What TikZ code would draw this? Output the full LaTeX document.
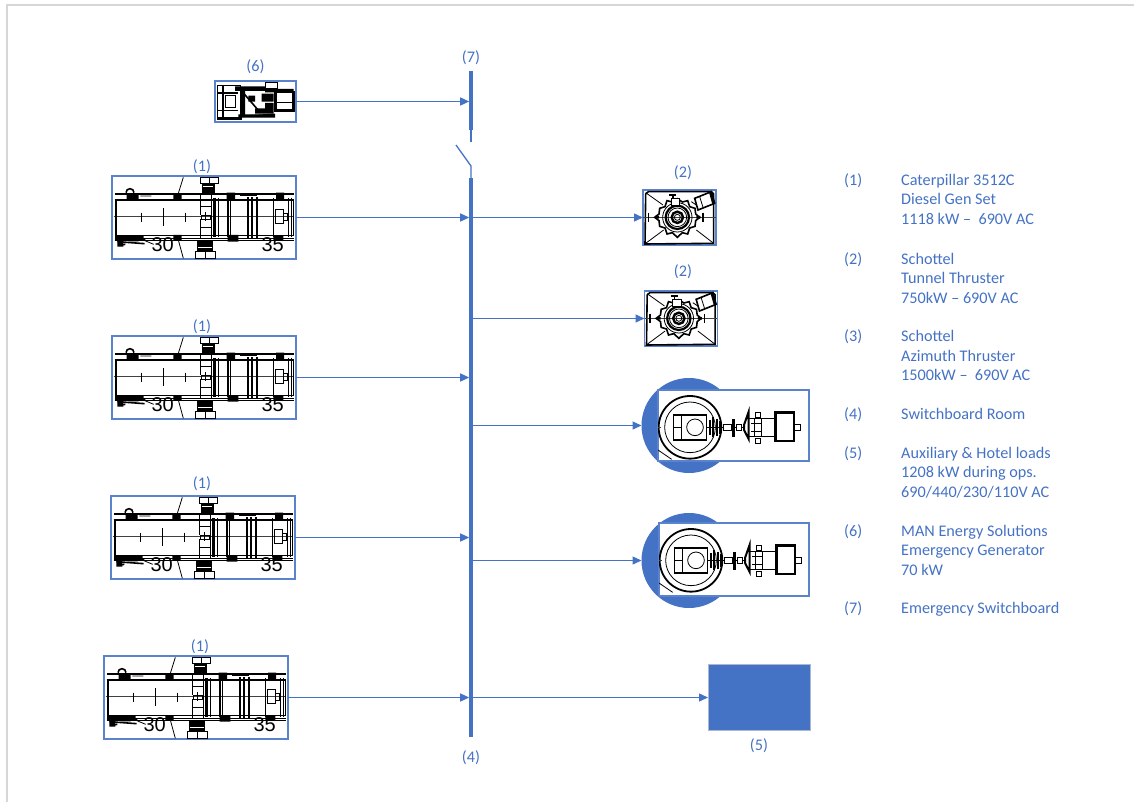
\documentclass[tikz,border=0pt]{standalone}
\usepackage{fontspec}
\setmainfont{Carlito}
\newfontfamily\drawfont{Liberation Sans}
\usetikzlibrary{arrows.meta}
\definecolor{bluemain}{HTML}{4472C4}
\definecolor{framegray}{HTML}{D6D6D6}
\tikzset{
 x=1pt,y=-1pt,
 lbl/.style={text=bluemain,font=\fontsize{16.2}{18}\selectfont,inner sep=0pt},
 leg/.style={lbl,anchor=base west},
 imgbox/.style={draw=bluemain!88,line width=1.4pt,fill=white,inner sep=0pt,outer sep=0pt,anchor=north west},
 conn/.style={draw=bluemain,line width=1.4pt,-{Triangle[length=9pt,width=8pt]}},
 busbar/.style={fill=bluemain,inner sep=0pt,outer sep=0pt,minimum width=3.6pt,anchor=north},
 wire/.style={draw=bluemain,line width=1.3pt},
 ln/.style={draw=black,line width=.8pt},
 hv/.style={draw=black,line width=1.6pt},
 thin ln/.style={draw=black!75,line width=.6pt},
 bl/.style={fill=black},
 dim/.style={font=\drawfont\fontsize{20}{20}\selectfont,text=black,inner sep=0pt},
 pics/genset/.style={code={
  \begin{scope}[scale=1/3]
   % rails
   \path[hv] (8,54)--(545,54) (8,187)--(545,187);
   \path[ln] (8,70)--(545,70) (8,192)--(545,192);
   \path[thin ln] (5,122)--(545,122);
   % body
   \path[hv] (12,72) rectangle (299,178);
   \path[hv] (10,72)--(10,195);
   \foreach \xa/\ya/\yb in {87/110/137,154/97/150,219/110/137}{\path[ln] (\xa,\ya)--(\xa,\yb);}
   \path[ln] (214,4)--(199,52) (199,192)--(214,247);
   \path[hv] (42,50) arc (180:360:12);
   % black blocks on rails
   \path[bl] (44,52) rectangle (80,72) (184,52) rectangle (209,73) (344,50) rectangle (369,74) (492,50) rectangle (516,72);
   \path[bl] (184,177) rectangle (209,192) (347,177) rectangle (379,197) (484,180) rectangle (514,192);
   % lower left mass
   \path[hv] (10,183)--(95,183) (10,190)--(100,192) (16,197)--(98,203) (20,208)--(40,205);
   \path[bl] (16,192) rectangle (34,212) (50,180) rectangle (80,196);
   \path[ln] (85,60)--(118,60) (94,192)--(125,205);
   % turbo upper
   \path[ln] (264,4) rectangle (319,22) (292,4)--(292,22);
   \path[bl] (269,22) rectangle (309,52);
   \path[draw=white,line width=.9pt] (274,32)--(304,32);
   \path[ln] (264,52) rectangle (299,92) (264,92)--(264,118) (299,92)--(299,110);
   % turbo lower
   \path[ln] (249,227) rectangle (309,247) (279,227)--(279,247);
   \path[bl] (254,194) rectangle (304,224);
   \path[draw=white,line width=.9pt] (259,214)--(299,214);
   \path[ln] (264,154) rectangle (299,187) (264,130)--(264,154);
   \path[ln] (269,117) rectangle (294,130);
   \path[hv] (280,108)--(280,136);
   % engine
   \path[hv] (299,72) rectangle (544,178);
   \foreach \xa in {304,309,319,349,354,434,484,529,539}{\path[ln] (\xa,66)--(\xa,184);}
   \path[line width=2pt,draw=black] (309,66)--(309,184) (349,66)--(349,184) (409,64)--(409,186) (419,64)--(419,186) (434,64)--(434,186);
   \path[hv] (384,58) -- (434,58);
   \path[ln] (489,100) rectangle (514,142) (514,112) rectangle (526,132);
   \node[dim] (-d30) at (152,205) {30};
   \node[dim] (-d35) at (482,205) {35};
  \end{scope}
 }},
 pics/thrusterdraw/.style={code={
  \begin{scope}[scale=1/3]
   \path[hv] (8,12) -- (16,5) -- (205,5) -- (212,12) -- (212,160) -- (6,162) -- cycle;
   \path[ln] (8,8)--(60,45) (8,160)--(62,120) (212,160)--(160,120) (160,45)--(145,35);
   \path[thin ln] (0,82)--(218,82);
   \path[hv] (17,68)--(17,97) (180,68)--(180,97);
   % gear
   \path[hv] (35,82)--(48,72)--(50,55)--(66,50)--(72,32)--(88,36)--(103,26)--(118,36)--(134,32)--(140,50)--(156,55)--(158,72)--(170,82)--(158,92)--(156,109)--(140,114)--(134,132)--(118,128)--(103,142)--(88,128)--(72,132)--(66,114)--(50,109)--(48,92)--cycle;
   \path[ln] (103,82) circle[radius=44];
   \path[line width=2.2pt,draw=black] (103,82) circle[radius=35];
   \path[ln] (103,82) circle[radius=28];
   \path[line width=2.4pt,draw=black] (103,82) circle[radius=17];
   \path[ln] (103,82) circle[radius=9];
   \path[bl] (36,78) rectangle (48,86) (160,78) rectangle (172,86);
   \path[fill=white,draw=black,line width=.8pt] (85,25) rectangle (110,46);
   \path[hv] (78,15)--(100,15) (90,15)--(90,25);
   \path[hv] (155,25)--(205,5)--(215,40)--(165,60)--cycle;
   \path[bl] (198,7)--(205,5)--(215,40)--(208,43)--cycle;
   \path[ln] (170,20)--(180,52);
  \end{scope}
 }},
 pics/azimuthdraw/.style={code={
  \begin{scope}[scale=1/3]
   \clip (0,0) rectangle (453,212);
   \path[line width=1.8pt,draw=black] (96,112) circle[radius=94];
   \path[ln] (96,112) circle[radius=76];
   \path[hv] (46,75) rectangle (146,150);
   \path[ln] (71,75)--(71,150) (46,112)--(71,112);
   \path[ln] (111,112) circle[radius=25];
   \path[ln] (0,180)--(41,208);
   \path[thin ln] (0,112)--(8,112);
   % shaft
   \path[hv] (146,112)--(272,112);
   \foreach \xa/\yh in {156/22,166/30,176/26,186/20}{\path[line width=2.2pt,draw=black] (\xa,112-\yh)--(\xa,112+\yh);}
   \path[fill=white,draw=black,line width=.8pt] (196,102) rectangle (221,122);
   \path[line width=3pt,draw=black] (227,88)--(227,140);
   \path[fill=white,draw=black,line width=.8pt] (236,104) rectangle (251,120);
   \path[line width=2pt,draw=black,fill=white] (272,65)--(258,105)--(258,120)--(272,147)--cycle;
   \path[hv] (272,85) rectangle (356,140);
   \path[ln] (280,100)--(310,100) (280,125)--(310,125) (290,85)--(290,140) (310,85)--(310,140);
   \path[ln] (291,67) rectangle (306,82) (291,145) rectangle (306,160);
   \path[line width=2.4pt,draw=black] (353,67) rectangle (408,153);
   \path[ln] (408,102) rectangle (426,122);
  \end{scope}
 }},
 pics/emergencydraw/.style={code={
  \begin{scope}[scale=1/3]
   \path[hv] (8,14) rectangle (76,114);
   \path[hv] (24,14)--(24,114) (8,36)--(70,36) (8,88)--(70,88);
   \path[ln] (30,42) rectangle (62,80);
   \path[bl] (60,16) rectangle (150,30) (76,30) rectangle (90,100) (70,100) rectangle (180,110) (150,24) rectangle (236,34) (100,44) rectangle (120,62) (140,38) rectangle (176,62) (120,82) rectangle (176,98) (150,66) rectangle (176,82);
   \path[hv] (80,30)--(130,88);
   \path[hv] (151,5) rectangle (188,22);
   \path[line width=2.4pt,draw=black] (181,33) rectangle (236,88);
   \path[hv] (181,65)--(236,65);
   \path[line width=3pt,draw=black] (8,114)--(80,114);
   \path[hv] (80,106)--(180,100);
  \end{scope}
 }},
}
\begin{document}
\begin{tikzpicture}
\useasboundingbox (0,0) rectangle (1134,802);
% frame of the page
\coordinate (fa) at (7,802); \coordinate (fb) at (7,5); \coordinate (fc) at (1134,5);
\draw[framegray,line width=1.6pt] (fa)--(fb)--(fc);

% busbars
\node[busbar,minimum height=559pt] (bus) at (471,178) {};
\node[busbar,minimum height=59pt] (ebus) at (471,71) {};
\coordinate (etail) at (471,142);
\coordinate (swtop) at (456,145);
\coordinate (swpivot) at (471,166);
\draw[wire] (ebus.south)--(etail);
\draw[wire] (swtop)--(swpivot)--(bus.north);

% generator sets
\node[imgbox,minimum width=184pt,minimum height=83pt] (g1) at (112,176) {};
\pic (gd1) at (112,176) {genset};
\node[imgbox,minimum width=184pt,minimum height=83pt] (g2) at (112,336) {};
\pic (gd2) at (112,336) {genset};
\node[imgbox,minimum width=184pt,minimum height=83pt] (g3) at (111,496) {};
\pic (gd3) at (111,496) {genset};
\node[imgbox,minimum width=184pt,minimum height=83pt] (g4) at (104,656) {};
\pic (gd4) at (104,656) {genset};
\node[imgbox,minimum width=81pt,minimum height=41pt] (e6) at (215,81) {};
\pic (ed) at (215,81) {emergencydraw};

% tunnel thrusters
\node[imgbox,minimum width=73pt,minimum height=55pt] (t1) at (643,190) {};
\pic (td1) at (643,190) {thrusterdraw};
\node[imgbox,minimum width=73pt,minimum height=55pt] (t2) at (644.5,291) {};
\pic (td2) at (644.5,291) {thrusterdraw};

% azimuth thrusters
\node[circle,fill=bluemain,minimum size=95pt,inner sep=0pt,outer sep=0pt] (c1) at (689,425.5) {};
\node[imgbox,minimum width=151pt,minimum height=71pt] (a1) at (658,390) {};
\pic (ad1) at (658,390) {azimuthdraw};
\node[circle,fill=bluemain,minimum size=95pt,inner sep=0pt,outer sep=0pt] (c2) at (689,560.5) {};
\node[imgbox,minimum width=150pt,minimum height=73pt] (a2) at (659,523) {};
\pic (ad2) at (659,523) {azimuthdraw};

% hotel load
\node[fill=bluemain,draw=framegray!70!bluemain,line width=.6pt,inner sep=0pt,outer sep=0pt,anchor=north west,minimum width=102.5pt,minimum height=66pt] (h5) at (708,664.5) {};

% connectors
\draw[conn] (e6.east)--(e6.east -| ebus.west);
\foreach \g in {g1,g2,g3,g4}{\draw[conn] (\g.east)--(\g.east -| bus.west);}
\foreach \l in {t1,t2,c1,c2,h5}{\draw[conn] (\l.west -| bus.east)--(\l.west);}

% labels
\node[lbl] (l7) at (471,58) {(7)};
\node[lbl] (l6) at (255.5,67) {(6)};
\node[lbl] (l1a) at (202,167) {(1)};
\node[lbl] (l1b) at (202,327) {(1)};
\node[lbl] (l1c) at (202,484) {(1)};
\node[lbl] (l1d) at (200,647) {(1)};
\node[lbl] (l2a) at (683,173) {(2)};
\node[lbl] (l2b) at (683,272) {(2)};
\node[lbl] (l4) at (471,758) {(4)};
\node[lbl] (l5) at (759,746) {(5)};

% legend
\node[leg] (k1) at (844,186) {(1)};
\node[leg] (k1a) at (901,186) {Caterpillar 3512C};
\node[leg] (k1b) at (901,205) {Diesel Gen Set};
\node[leg] (k1c) at (901,225) {1118 kW --\ \ 690V AC};
\node[leg] (k2) at (844,264) {(2)};
\node[leg] (k2a) at (901,264) {Schottel};
\node[leg] (k2b) at (901,283) {Tunnel Thruster};
\node[leg] (k2c) at (901,303) {750kW -- 690V AC};
\node[leg] (k3) at (844,341) {(3)};
\node[leg] (k3a) at (901,341) {Schottel};
\node[leg] (k3b) at (901,361) {Azimuth Thruster};
\node[leg] (k3c) at (901,380) {1500kW --\ \ 690V AC};
\node[leg] (k4) at (844,419) {(4)};
\node[leg] (k4a) at (901,419) {Switchboard Room};
\node[leg] (k5) at (844,458) {(5)};
\node[leg] (k5a) at (901,458) {Auxiliary \& Hotel loads};
\node[leg] (k5b) at (901,477) {1208 kW during ops.};
\node[leg] (k5c) at (901,497) {690/440/230/110V AC};
\node[leg] (k6) at (844,536) {(6)};
\node[leg] (k6a) at (901,536) {MAN Energy Solutions};
\node[leg] (k6b) at (901,555) {Emergency Generator};
\node[leg] (k6c) at (901,575) {70 kW};
\node[leg] (k7) at (844,613) {(7)};
\node[leg] (k7a) at (901,613) {Emergency Switchboard};
\end{tikzpicture}
\end{document}
